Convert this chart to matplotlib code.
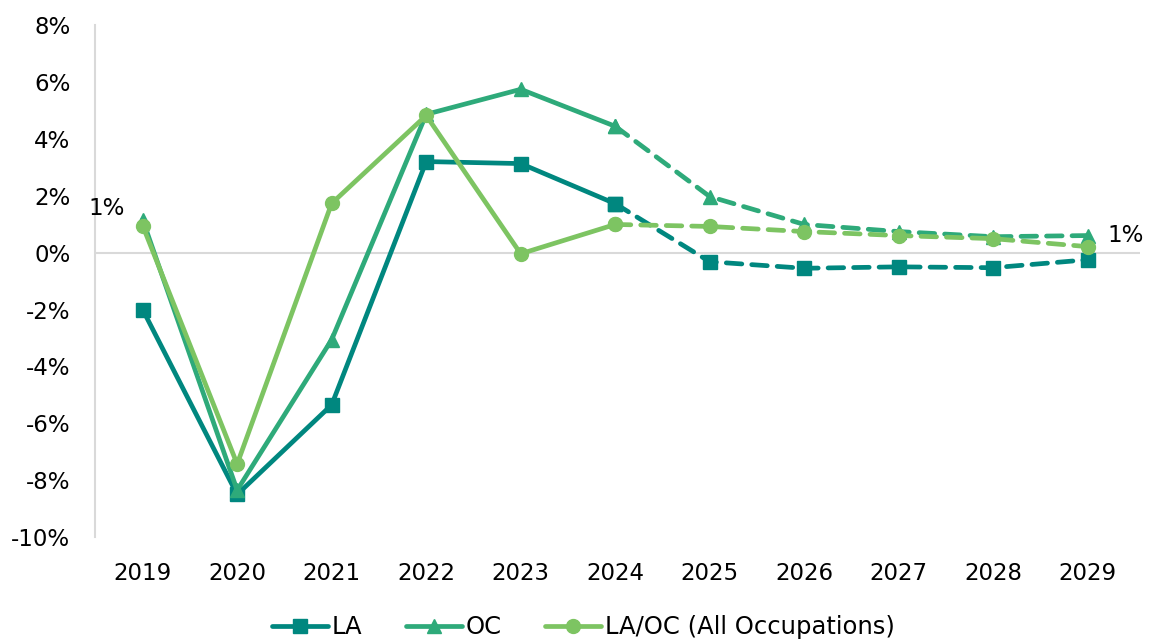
import numpy as np
import matplotlib.pyplot as plt

plt.rcParams['font.family'] = ['DejaVu Sans']

years = ['2019', '2020', '2021', '2022', '2023', '2024', '2025', '2026', '2027', '2028', '2029']
la = [-2.0, -8.5, -5.35, 3.2, 3.13, 1.72, -0.32, -0.55, -0.5, -0.53, -0.25]
oc = [1.16, -8.35, -3.06, 4.86, 5.74, 4.44, 1.97, 0.99, 0.74, 0.56, 0.6]
laoc = [0.95, -7.43, 1.73, 4.82, -0.04, 0.99, 0.92, 0.74, 0.6, 0.49, 0.21]
split = 5  # 2024: last actual, dashes afterwards

series = [('LA', la, '#00877F', 's', 10),
          ('OC', oc, '#2EAA7A', '^', 10),
          ('LA/OC (All Occupations)', laoc, '#7DC462', 'o', 10)]

fig = plt.figure(figsize=(11.49, 6.41), dpi=100)
ax = fig.add_axes([0.083, 0.162, 0.909, 0.799])

x = np.arange(len(years))
for name, vals, col, mk, ms in series:
    vals = np.array(vals)
    ax.plot(x[:split + 1], vals[:split + 1], color=col, lw=3.4, marker=mk, ms=ms,
            label=name, solid_capstyle='round')
    ax.plot(x[split:], vals[split:], color=col, lw=3.4, marker=mk, ms=ms,
            ls=(0, (3.3, 2.1)), dash_capstyle='round')

ax.axhline(0, color='#d9d9d9', lw=1.5, zorder=0)
ax.set_xlim(-0.5, 10.55)
ax.set_ylim(-10, 8)
ax.set_yticks(np.arange(-10, 9, 2))
ax.set_yticklabels([f'{v}%' for v in range(-10, 9, 2)])
ax.set_xticks(x)
ax.set_xticklabels(years)
ax.tick_params(length=0, labelsize=16.5)
ax.tick_params(axis='y', pad=18)
ax.tick_params(axis='x', pad=18)

for s in ['top', 'right', 'bottom']:
    ax.spines[s].set_visible(False)
ax.spines['left'].set_color('#d9d9d9')
ax.spines['left'].set_linewidth(1.5)

ax.text(-0.38, 1.55, '1%', fontsize=16.5, ha='center', va='center')
ax.text(10.4, 0.6, '1%', fontsize=16.5, ha='center', va='center')

ax.legend(loc='center', bbox_to_anchor=(0.467, -0.176), ncol=3, frameon=False,
          fontsize=17.5, handlelength=2.3, handletextpad=0.15, columnspacing=1.8)

fig.savefig('out.png', dpi=100)
